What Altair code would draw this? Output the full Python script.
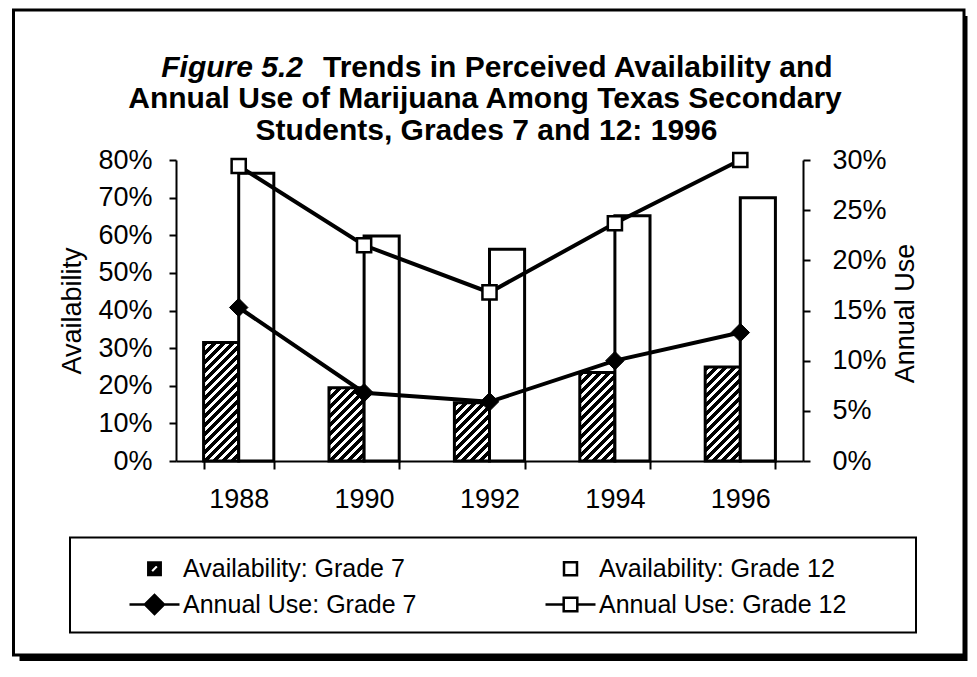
import altair as alt
import pandas as pd

# ---------------- data ----------------
years = ["1988", "1990", "1992", "1994", "1996"]
grades = ["Grade 7", "Grade 12"]
avail_g7 = [31.5, 19.5, 15.5, 23.5, 25.0]      # % availability, grade 7 (left axis)
avail_g12 = [76.5, 59.8, 56.3, 65.2, 70.0]     # % availability, grade 12 (left axis)
use_g7 = [15.3, 6.8, 5.9, 10.0, 12.8]          # % annual use, grade 7 (right axis)
use_g12 = [29.4, 21.5, 16.8, 23.7, 30.0]       # % annual use, grade 12 (right axis)
avail_ticks = [0, 10, 20, 30, 40, 50, 60, 70, 80]
use_ticks = [0, 5, 10, 15, 20, 25, 30]
series = ["Availability: Grade 7", "Availability: Grade 12",
          "Annual Use: Grade 7", "Annual Use: Grade 12"]
title_lines = ["Figure  5.2", "Trends in Perceived Availability and",
               "Annual Use of Marijuana Among Texas Secondary",
               "Students, Grades 7 and 12: 1996"]

bar_df = pd.DataFrame(
    [{"year": y, "grade": "Grade 7", "availability": v} for y, v in zip(years, avail_g7)]
    + [{"year": y, "grade": "Grade 12", "availability": v} for y, v in zip(years, avail_g12)]
)
use_df = pd.DataFrame(
    [{"year": y, "grade": "Grade 7", "use": v} for y, v in zip(years, use_g7)]
    + [{"year": y, "grade": "Grade 12", "use": v} for y, v in zip(years, use_g12)]
)
one = pd.DataFrame({"k": [0]})
legend_df = pd.DataFrame({"series": series})

# ---------------- geometry ----------------
W, H = 627, 301
PAD_IN = 0.44
bar_w = (W / len(years)) * (1 - PAD_IN) / 2


def hatch(value):
    """Diagonal '/' hatch as a striped linear gradient for one bar."""
    h = value / avail_ticks[-1] * H
    span = bar_w + h
    denom = bar_w ** 2 + h ** 2
    period = 9.0 / span
    stops = []
    k = 0
    while k * period < 1:
        a = k * period
        b = min(a + 0.55 * period, 1.0)
        c = min((k + 1) * period, 1.0)
        stops += [{"offset": round(a, 5), "color": "black"},
                  {"offset": round(b, 5), "color": "black"},
                  {"offset": round(b, 5), "color": "white"},
                  {"offset": round(c, 5), "color": "white"}]
        k += 1
    return {"gradient": "linear", "x1": 0, "y1": 0,
            "x2": round(bar_w * span / denom, 5), "y2": round(h * span / denom, 5),
            "stops": stops}


conds = [{"test": f"datum.grade === 'Grade 7' && datum.year === '{y}'", "value": hatch(v)}
         for y, v in zip(years, avail_g7)]

FONT = "Liberation Sans"
axis_common = dict(grid=False, domainColor="black", domainWidth=2, tickColor="black",
                   tickWidth=2, labelColor="black", titleColor="black", labelFont=FONT,
                   titleFont=FONT, labelFontSize=27, titleFontSize=27,
                   titleFontWeight="normal", zindex=1)

x_enc = alt.X("year:N", sort=years,
              scale=alt.Scale(domain=years, paddingInner=PAD_IN, paddingOuter=PAD_IN / 2),
              axis=alt.Axis(title=None, labelAngle=0, tickBand="extent", tickSize=8,
                            labelPadding=17, **axis_common))

left_axis = alt.Axis(orient="left", values=avail_ticks, labelExpr="datum.value + '%'",
                     tickSize=7, labelPadding=17, title="Availability", titleX=-104,
                     titleY=150.5, titleAngle=270, titleAlign="center",
                     titleBaseline="middle", **axis_common)
right_axis = alt.Axis(orient="right", values=use_ticks, labelExpr="datum.value + '%'",
                      tickSize=7, labelPadding=22, title="Annual Use", titleX=102,
                      titleY=153, titleAngle=270, titleAlign="center",
                      titleBaseline="middle", **axis_common)

# ---------------- decoration: framed figure box, title, legend box ----------------
shadow = alt.Chart(one).mark_rect(fill="black").encode(
    x=alt.value(-156.5), x2=alt.value(791.5), y=alt.value(-144), y2=alt.value(501))
frame = alt.Chart(one).mark_rect(fill="white", stroke="black", strokeWidth=3).encode(
    x=alt.value(-162.5), x2=alt.value(788), y=alt.value(-150), y2=alt.value(495))
legend_box = alt.Chart(one).mark_rect(fill="white", stroke="black", strokeWidth=2).encode(
    x=alt.value(-106), x2=alt.value(740), y=alt.value(377.5), y2=alt.value(472.5))

tkw = dict(font=FONT, fontSize=30, fontWeight="bold", color="black", baseline="alphabetic")
t1a = alt.Chart(one).mark_text(text=title_lines[0], fontStyle="italic", align="right", **tkw).encode(
    x=alt.value(127), y=alt.value(-83.5))
t1b = alt.Chart(one).mark_text(text=title_lines[1], align="left", **tkw).encode(
    x=alt.value(147), y=alt.value(-83.5))
t2 = alt.Chart(one).mark_text(text=title_lines[2], align="center", **tkw).encode(
    x=alt.value(309), y=alt.value(-52))
t3 = alt.Chart(one).mark_text(text=title_lines[3], align="center", **tkw).encode(
    x=alt.value(310.5), y=alt.value(-20.5))

# ---------------- data marks ----------------
bars = alt.Chart(bar_df).mark_bar(stroke="black", strokeWidth=3).encode(
    x=x_enc,
    xOffset=alt.XOffset("grade:N", sort=grades,
                        scale=alt.Scale(domain=grades, paddingInner=0, paddingOuter=0)),
    y=alt.Y("availability:Q", scale=alt.Scale(domain=[0, 80], nice=False), axis=left_axis),
    fill=alt.FillValue("white", condition=conds),
)

y_use = alt.Y("use:Q", scale=alt.Scale(domain=[0, 30], nice=False), axis=right_axis)
lines = alt.Chart(use_df).mark_line(color="black", strokeWidth=4).encode(
    x=x_enc, y=y_use, detail="grade:N")
diamonds = alt.Chart(use_df).transform_filter(alt.datum.grade == "Grade 7").mark_point(
    shape="diamond", filled=True, color="black", stroke="black", strokeWidth=1,
    size=340, opacity=1).encode(x=x_enc, y=y_use)
squares = alt.Chart(use_df).transform_filter(alt.datum.grade == "Grade 12").mark_point(
    shape="square", filled=True, color="white", stroke="black", strokeWidth=2.5,
    size=200, opacity=1).encode(x=x_enc, y=y_use)

use_layer = alt.layer(lines, diamonds, squares)

# ---------------- legend ----------------
edge = "M-2.5,0L-2.5,0M2.5,0L2.5,0"
paths = [
    "M-0.62,-0.62H0.62V0.62H-0.62Z M-0.48,0.16L-0.16,0.48L0.48,-0.16L0.16,-0.48Z " + edge,
    "M-0.65,-0.65H0.65V0.65H-0.65Z " + edge,
    "M-2.5,0H-0.95 M0.95,0H2.5 M-0.95,0L0,-0.95L0.95,0L0,0.95Z",
    "M-2.5,0H-0.68 M0.68,0H2.5 M-0.68,-0.68H0.68V0.68H-0.68Z",
]
leg = alt.Legend(title=None, orient="none", legendX=-34, legendY=396, columns=2,
                 direction="horizontal",
                 columnPadding=123, rowPadding=8, symbolSize=400, symbolStrokeWidth=2.5,
                 symbolStrokeColor="black", labelFont=FONT, labelFontSize=25,
                 labelColor="black", labelOffset=16, labelLimit=500, padding=0)
sc = dict(domain=series)
legend_layer = alt.Chart(legend_df).transform_filter("false").mark_point(
    filled=True, strokeWidth=2.5, opacity=1).encode(
    shape=alt.Shape("series:N", scale=alt.Scale(range=paths, **sc), legend=leg),
    fill=alt.Fill("series:N", scale=alt.Scale(range=["black", "white", "black", "white"], **sc),
                  legend=leg),
    stroke=alt.Stroke("series:N", scale=alt.Scale(range=["black"] * 4, **sc), legend=leg),
)

chart = alt.layer(
    shadow, frame, legend_box, t1a, t1b, t2, t3, bars, use_layer, legend_layer
).resolve_scale(y="independent").properties(
    width=W, height=H, padding={"left": 4, "top": 0, "right": 0, "bottom": 0},
    background="white",
).configure_view(stroke=None)

chart.save("out.html", embed_options={"renderer": "svg", "actions": False})
